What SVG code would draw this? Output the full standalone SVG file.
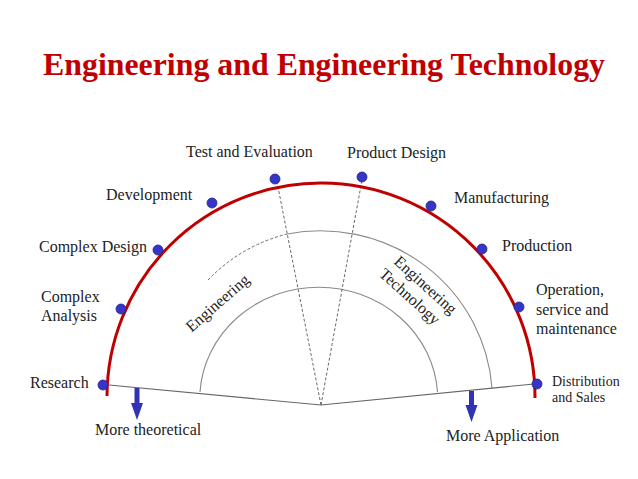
<svg xmlns="http://www.w3.org/2000/svg" width="638" height="479" viewBox="0 0 638 479">
<style>
.lbl{font-family:"Liberation Serif","Times New Roman",serif;font-size:16px;fill:#222}
.sm{font-size:14px}
.title{font-family:"Liberation Serif","Times New Roman",serif;font-size:31px;font-weight:bold;fill:#c00000}
.dot{fill:#3535c8;stroke:#23238a;stroke-width:0.8}
.gray{fill:none;stroke:#8a8a8a;stroke-width:1.1}
.dash{fill:none;stroke:#444;stroke-width:0.8;stroke-dasharray:3,2}
.arrow{fill:#3232b4}
</style>
<rect width="638" height="479" fill="#fff"/>
<text class="title" x="324" y="75" text-anchor="middle" textLength="562" lengthAdjust="spacingAndGlyphs">Engineering and Engineering Technology</text>
<g id="connectors">
<path class="gray" d="M200,392 A119,112 0 0 1 437.5,392"/>
<path class="gray" d="M287,234 A172,170 0 0 1 492,388"/>
<path class="dash" d="M208,280 A165,165 0 0 1 287,234"/>
<path class="dash" d="M321,405 L277,182 M321,405 L362,180"/>
<polyline fill="none" stroke="#666" stroke-width="1.1" points="109,385 321,405 534,384"/>
<path fill="none" stroke="#c00000" stroke-width="3" d="M107,396 A214,214 0 0 1 535,398"/>
<g class="arrow">
<rect x="134.5" y="388" width="5" height="16"/>
<polygon points="131,403 143,403 137,420"/>
<rect x="469" y="391" width="5" height="15"/>
<polygon points="465.5,405 477.5,405 471.5,422"/>
</g>
</g>
<g id="research"><circle class="dot" cx="103" cy="385" r="5"/><text class="lbl" x="30" y="388">Research</text></g>
<g id="complex-analysis"><circle class="dot" cx="121" cy="309" r="5"/><text class="lbl" x="41" y="302">Complex</text><text class="lbl" x="41" y="321">Analysis</text></g>
<g id="complex-design"><circle class="dot" cx="158" cy="250" r="5"/><text class="lbl" x="39" y="252">Complex Design</text></g>
<g id="development"><circle class="dot" cx="212" cy="203" r="5"/><text class="lbl" x="106" y="200">Development</text></g>
<g id="test-evaluation"><circle class="dot" cx="275" cy="179" r="5"/><text class="lbl" x="186" y="157">Test and Evaluation</text></g>
<g id="product-design"><circle class="dot" cx="362" cy="177" r="5"/><text class="lbl" x="347" y="158">Product Design</text></g>
<g id="manufacturing"><circle class="dot" cx="431" cy="206" r="5"/><text class="lbl" x="454" y="203">Manufacturing</text></g>
<g id="production"><circle class="dot" cx="482" cy="249" r="5"/><text class="lbl" x="502" y="251">Production</text></g>
<g id="operation"><circle class="dot" cx="519" cy="307" r="5"/><text class="lbl" x="536" y="295">Operation,</text><text class="lbl" x="536" y="315">service and</text><text class="lbl" x="536" y="334">maintenance</text></g>
<g id="distribution"><circle class="dot" cx="537" cy="384" r="5"/><text class="lbl sm" x="552" y="386">Distribution</text><text class="lbl sm" x="552" y="402">and Sales</text></g>
<g id="engineering"><text class="lbl" x="221" y="307" text-anchor="middle" transform="rotate(-41 221 307)">Engineering</text></g>
<g id="engineering-technology"><text class="lbl" text-anchor="middle" transform="translate(422 289) rotate(42)"><tspan x="0" y="0">Engineering</tspan><tspan x="-4" y="19">Technology</tspan></text></g>
<g id="more-theoretical"><text class="lbl" x="95" y="435">More theoretical</text></g>
<g id="more-application"><text class="lbl" x="446" y="441">More Application</text></g>
</svg>
